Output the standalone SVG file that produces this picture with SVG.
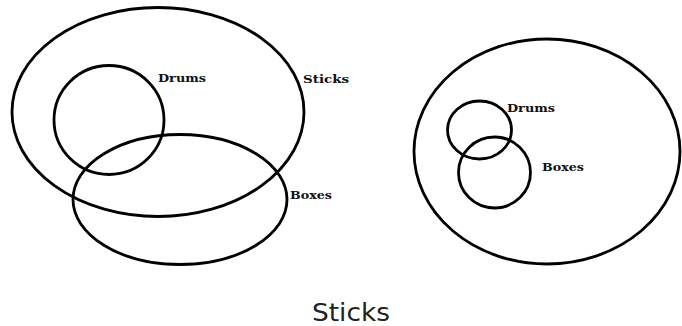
<svg xmlns="http://www.w3.org/2000/svg" width="682" height="326" viewBox="0 0 682 326">
<style>
.set{fill:none;stroke:#000;stroke-width:2.8}
.lbl{font-family:"DejaVu Serif","Liberation Serif",serif;font-weight:bold;font-size:11.5px;fill:#111}
.cap{font-family:"DejaVu Sans","Liberation Sans",sans-serif;font-size:24px;fill:#222}
</style>
<rect width="682" height="326" fill="#fff"/>
<g id="left-diagram">
<g id="left-sticks"><ellipse class="set" cx="158" cy="112" rx="146" ry="104.5"/><text class="lbl" x="303" y="83" textLength="46" lengthAdjust="spacingAndGlyphs">Sticks</text></g>
<g id="left-drums"><ellipse class="set" cx="109" cy="120" rx="55" ry="54.5"/><text class="lbl" x="158" y="82" textLength="48" lengthAdjust="spacingAndGlyphs">Drums</text></g>
<g id="left-boxes"><ellipse class="set" cx="180" cy="199.5" rx="107" ry="65"/><text class="lbl" x="290" y="199" textLength="42" lengthAdjust="spacingAndGlyphs">Boxes</text></g>
</g>
<g id="right-diagram">
<g id="right-sticks"><ellipse class="set" cx="547" cy="151.5" rx="133" ry="112.5"/></g>
<g id="right-drums"><ellipse class="set" cx="479.5" cy="130" rx="32" ry="29"/><text class="lbl" x="507" y="112" textLength="48" lengthAdjust="spacingAndGlyphs">Drums</text></g>
<g id="right-boxes"><ellipse class="set" cx="494.5" cy="172.5" rx="36" ry="35.5"/><text class="lbl" x="542" y="171" textLength="42" lengthAdjust="spacingAndGlyphs">Boxes</text></g>
</g>
<g id="connectors"/>
<text id="caption" class="cap" x="312" y="321" textLength="78" lengthAdjust="spacingAndGlyphs">Sticks</text>
</svg>
